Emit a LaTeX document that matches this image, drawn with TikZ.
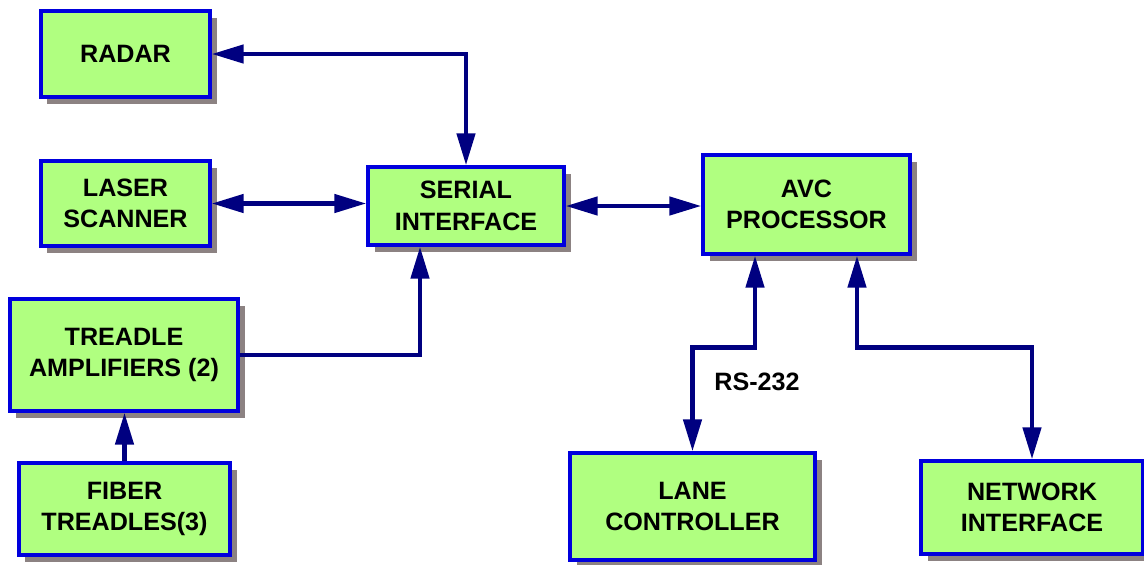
\documentclass[tikz,border=0pt]{standalone}
\usepackage{fontspec}
\setmainfont{Liberation Sans}
\usetikzlibrary{arrows.meta,shadows}
\definecolor{boxgreen}{HTML}{B0FF80}
\definecolor{boxblue}{HTML}{0000DD}
\definecolor{linknavy}{HTML}{000080}
\definecolor{shadowgrey}{HTML}{8C8282}
\tikzset{
  unit/.style={draw=boxblue, line width=1.9pt, fill=boxgreen, align=center,
    font=\fontsize{14.3}{18}\selectfont\bfseries, inner sep=0pt,
    general shadow={fill=shadowgrey, shadow xshift=0.13cm, shadow yshift=-0.13cm}},
  link/.style={draw=linknavy, line width=2.6pt}
}
\begin{document}
\begin{tikzpicture}[x=0.02cm, y=-0.02cm, >={Triangle[length=0.64cm,width=0.36cm]}]
\useasboundingbox (0,0) rectangle (1144,565);
% boxes: name / centre x / centre y / width / height / text
\foreach \n/\x/\y/\w/\h/\txt in {
  radar/125.5/54/169/86/RADAR,
  laser/125.5/203.5/169/85/{LASER\\SCANNER},
  serial/466/206/196/78/{SERIAL\\INTERFACE},
  avc/806.5/204.5/207/99/{AVC\\PROCESSOR},
  treadle/124/355/228/112/{TREADLE\\AMPLIFIERS (2)},
  fiber/124.5/509/211/92/{FIBER\\TREADLES(3)},
  lane/692.5/506.5/245/107/{LANE\\CONTROLLER},
  network/1032/507.5/222/93/{NETWORK\\INTERFACE}} {
\node[unit, minimum width=\w*0.02cm, minimum height=\h*0.02cm] (\n) at (\x,\y) {\txt};}
\node[font=\fontsize{14.3}{18}\selectfont\bfseries] (rs) at (757,382) {RS-232};
% connectors
\draw[link, <->] (radar.east) -| (serial.north);
\draw[link, <->] (laser.east) -- (laser.east -| serial.west);
\draw[link, <->] (serial.east) -- (serial.east -| avc.west);
\draw[link, ->] (treadle.east) -| ([xshift=-0.92cm]serial.south);
\draw[link, ->] (fiber.north) -- (fiber.north |- treadle.south);
\draw[link, <->] ([xshift=-1.03cm]avc.south) -- ++(0,92) -| (lane.north);
\draw[link, <->] ([xshift=1.01cm]avc.south) -- ++(0,92) -| (network.north);
\end{tikzpicture}
\end{document}
